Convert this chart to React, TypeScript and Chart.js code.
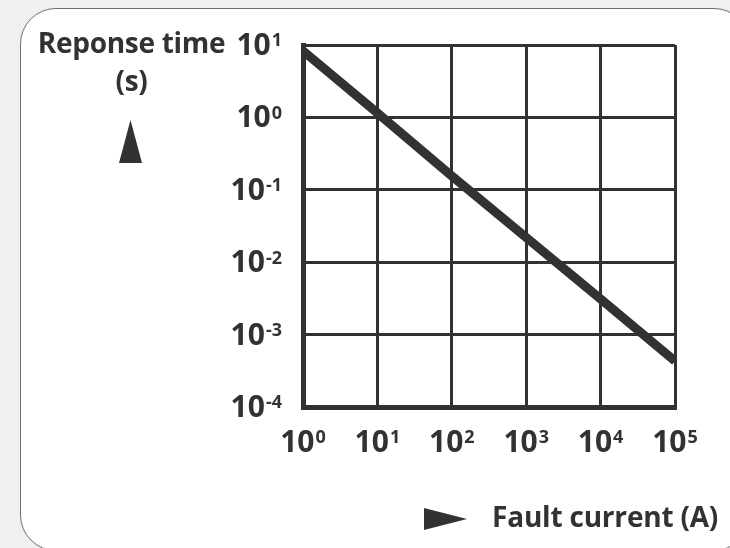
import React, { useEffect, useRef } from "react";
import { Chart, registerables } from "chart.js";

Chart.register(...registerables);

// ---- data ----
const xTickValues = [1, 10, 100, 1000, 10000, 100000];
const xTickExponents = ["0", "1", "2", "3", "4", "5"];
const yTickValues = [0.0001, 0.001, 0.01, 0.1, 1, 10];
const yTickExponents = ["-4", "-3", "-2", "-1", "0", "1"];
const tickBase = "10";
const faultCurrentA = [1, 10, 100, 1000, 10000, 100000];
const responseTimeS = [8.3, 1.15, 0.155, 0.022, 0.0031, 0.00043];
const yTitleLines = ["Reponse time", "(s)"];
const xTitle = "Fault current (A)";

const INK = "#323230";
const FONT = '"Open Sans", "DejaVu Sans", sans-serif';
const WEIGHT = 700;
const BASE_SIZE = 30;
const EXP_SIZE = 18;

function drawPower(
  ctx: CanvasRenderingContext2D,
  x: number,
  baseline: number,
  align: "center" | "right",
  exp: string
) {
  ctx.font = `${WEIGHT} ${BASE_SIZE}px ${FONT}`;
  const wb = ctx.measureText(tickBase).width;
  ctx.font = `${WEIGHT} ${EXP_SIZE}px ${FONT}`;
  const we = ctx.measureText(exp).width;
  const gap = 1;
  const total = wb + gap + we;
  const x0 = align === "center" ? x - total / 2 : x - total;
  ctx.textAlign = "left";
  ctx.textBaseline = "alphabetic";
  ctx.font = `${WEIGHT} ${BASE_SIZE}px ${FONT}`;
  ctx.fillText(tickBase, x0, baseline);
  ctx.font = `${WEIGHT} ${EXP_SIZE}px ${FONT}`;
  const capBase = BASE_SIZE * 0.714;
  const capExp = EXP_SIZE * 0.714;
  ctx.fillText(exp, x0 + wb + gap, baseline - capBase + capExp);
}

const powerLabelsPlugin = {
  id: "powerLabels",
  afterDraw(chart: any) {
    const ctx = chart.ctx as CanvasRenderingContext2D;
    const xs = chart.scales.x;
    const ys = chart.scales.y;
    const area = chart.chartArea;
    ctx.save();
    ctx.fillStyle = INK;
    xTickValues.forEach((v, i) => {
      drawPower(ctx, xs.getPixelForValue(v), area.bottom + 45, "center", xTickExponents[i]);
    });
    yTickValues.forEach((v, i) => {
      drawPower(ctx, area.left - 21, ys.getPixelForValue(v) + 10, "right", yTickExponents[i]);
    });
    ctx.restore();
  },
};

export default function App() {
  const canvasRef = useRef<HTMLCanvasElement | null>(null);

  useEffect(() => {
    const canvas = canvasRef.current;
    if (!canvas) return;
    const chart = new Chart(canvas, {
      type: "line",
      data: {
        datasets: [
          {
            data: faultCurrentA.map((x, i) => ({ x, y: responseTimeS[i] })),
            borderColor: INK,
            borderWidth: 9,
            pointRadius: 0,
            tension: 0,
            borderCapStyle: "butt",
            borderJoinStyle: "round",
            clip: 0,
          } as any,
        ],
      },
      options: {
        animation: false,
        responsive: false,
        devicePixelRatio: 1,
        layout: { padding: { top: 45, right: 55, left: 0, bottom: 0 } },
        plugins: { legend: { display: false }, tooltip: { enabled: false } },
        scales: {
          x: {
            type: "logarithmic",
            min: xTickValues[0],
            max: xTickValues[xTickValues.length - 1],
            afterFit: (s: any) => {
              s.height = 141;
            },
            afterBuildTicks: (s: any) => {
              s.ticks = xTickValues.map((v) => ({ value: v }));
            },
            grid: { color: INK, lineWidth: 3, drawTicks: false },
            border: { color: INK, width: 5 },
            ticks: { display: false, autoSkip: false },
          },
          y: {
            type: "logarithmic",
            min: yTickValues[0],
            max: yTickValues[yTickValues.length - 1],
            afterFit: (s: any) => {
              s.width = 303;
            },
            afterBuildTicks: (s: any) => {
              s.ticks = yTickValues.map((v) => ({ value: v }));
            },
            grid: { color: INK, lineWidth: 3, drawTicks: false },
            border: { color: INK, width: 5 },
            ticks: { display: false, autoSkip: false },
          },
        },
      } as any,
      plugins: [powerLabelsPlugin],
    });
    return () => chart.destroy();
  }, []);

  const textStyle: React.CSSProperties = {
    position: "absolute",
    fontFamily: FONT,
    fontWeight: WEIGHT,
    fontSize: 28,
    color: INK,
    whiteSpace: "nowrap",
  };

  return (
    <div
      style={{
        position: "fixed",
        left: 0,
        top: 0,
        width: 730,
        height: 548,
        background: "#eff0ef",
        overflow: "hidden",
      }}
    >
      <div
        style={{
          position: "absolute",
          left: 20,
          top: 8,
          width: 728,
          height: 541,
          background: "#ffffff",
          border: "1.5px solid #6e6e6c",
          borderRadius: 36,
        }}
      />
      <canvas
        ref={canvasRef}
        width={730}
        height={548}
        style={{ position: "absolute", left: 0, top: 0, width: 730, height: 548 }}
      />
      <div
        style={{
          ...textStyle,
          left: 31,
          top: 23,
          width: 201,
          textAlign: "center",
          lineHeight: "38px",
          letterSpacing: "-0.3px",
        }}
      >
        {yTitleLines.map((l) => (
          <div key={l}>{l}</div>
        ))}
      </div>
      <svg
        width={730}
        height={548}
        style={{ position: "absolute", left: 0, top: 0, pointerEvents: "none" }}
      >
        <polygon points="130.5,120 119,163 142,163" fill={INK} />
        <polygon points="424,508 467,519 424,530" fill={INK} />
      </svg>
      <div style={{ ...textStyle, left: 492, top: 502, lineHeight: 1, letterSpacing: "-0.2px" }}>
        {xTitle}
      </div>
    </div>
  );
}
